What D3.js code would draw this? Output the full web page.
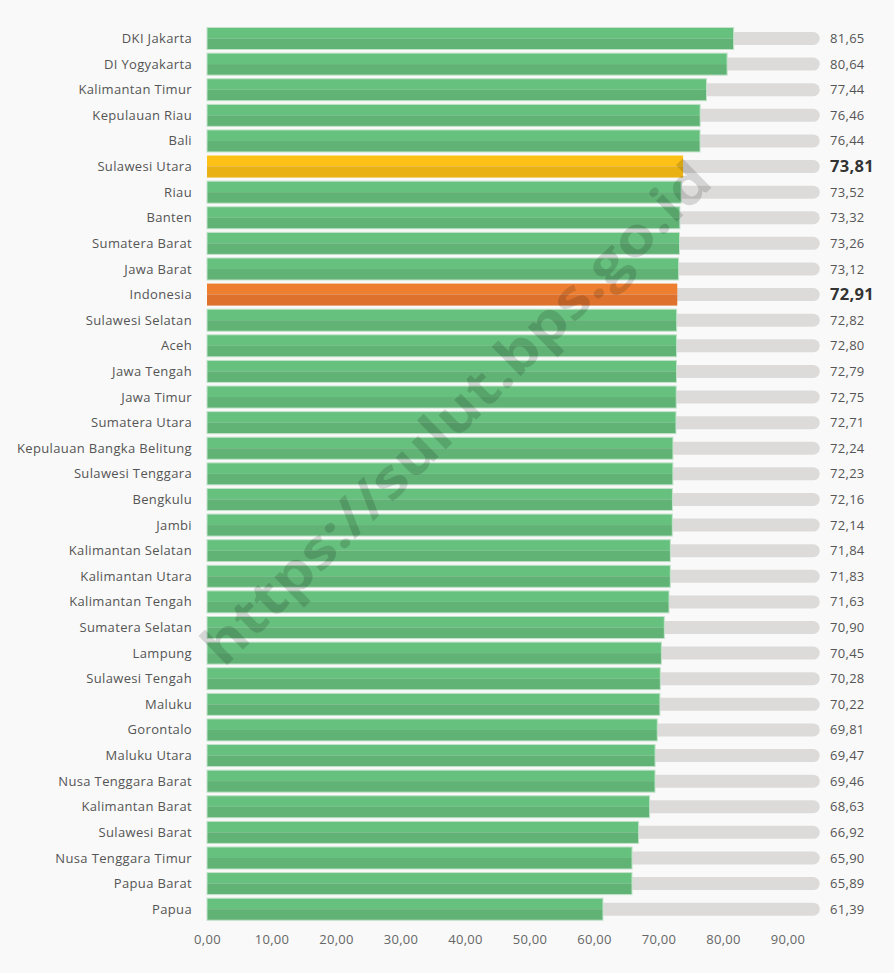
<!DOCTYPE html>
<html>
<head>
<meta charset="utf-8">
<script src="https://cdn.jsdelivr.net/npm/d3@7"></script>
<style>
  html, body { margin: 0; padding: 0; background: #f9f9f9; }
  svg { display: block; font-family: "Open Sans", "Noto Sans", sans-serif; }
</style>
</head>
<body>
<svg id="chart" width="894" height="973"></svg>
<script>
// Indeks Pembangunan Manusia per provinsi
const provinces = [
  "DKI Jakarta", "DI Yogyakarta", "Kalimantan Timur", "Kepulauan Riau", "Bali",
  "Sulawesi Utara", "Riau", "Banten", "Sumatera Barat", "Jawa Barat",
  "Indonesia", "Sulawesi Selatan", "Aceh", "Jawa Tengah", "Jawa Timur",
  "Sumatera Utara", "Kepulauan Bangka Belitung", "Sulawesi Tenggara", "Bengkulu", "Jambi",
  "Kalimantan Selatan", "Kalimantan Utara", "Kalimantan Tengah", "Sumatera Selatan", "Lampung",
  "Sulawesi Tengah", "Maluku", "Gorontalo", "Maluku Utara", "Nusa Tenggara Barat",
  "Kalimantan Barat", "Sulawesi Barat", "Nusa Tenggara Timur", "Papua Barat", "Papua"
];
const ipmValues = [
  81.65, 80.64, 77.44, 76.46, 76.44,
  73.81, 73.52, 73.32, 73.26, 73.12,
  72.91, 72.82, 72.80, 72.79, 72.75,
  72.71, 72.24, 72.23, 72.16, 72.14,
  71.84, 71.83, 71.63, 70.90, 70.45,
  70.28, 70.22, 69.81, 69.47, 69.46,
  68.63, 66.92, 65.90, 65.89, 61.39
];
const highlighted = { "Sulawesi Utara": "yellow", "Indonesia": "orange" };
const tickValues = [0, 10, 20, 30, 40, 50, 60, 70, 80, 90];
const trackMax = 95;

const rows = provinces.map((p, i) => ({ name: p, value: ipmValues[i] }));

const palette = {
  green:  { top: "#67c17e", bottom: "#60b275", stroke: "#c3e3cb" },
  yellow: { top: "#fcc016", bottom: "#e9b114", stroke: "none" },
  orange: { top: "#ee7f31", bottom: "#de722d", stroke: "none" }
};

const svg = d3.select("#chart");
const fmt = v => d3.format(".2f")(v).replace(".", ",");

const x = d3.scaleLinear().domain([0, 90]).range([207, 787.5]);
const y = d3.scaleBand().domain(provinces).range([25.7, 922]).paddingInner(0.14).paddingOuter(0.07);
const bh = y.bandwidth();

// background tracks
svg.append("g").selectAll("rect").data(rows).join("rect")
  .attr("x", x(0))
  .attr("y", d => y(d.name) + bh / 2 - 6.5)
  .attr("width", x(trackMax) - x(0))
  .attr("height", 13)
  .attr("rx", 6.5)
  .attr("fill", "#dcdbda");

// bars, split into a lighter upper half and a darker lower half
const bars = svg.append("g").selectAll("g").data(rows).join("g");
bars.append("rect")
  .attr("x", x(0))
  .attr("y", d => y(d.name))
  .attr("width", d => x(d.value) - x(0))
  .attr("height", bh / 2)
  .attr("fill", d => palette[highlighted[d.name] || "green"].top);
bars.append("rect")
  .attr("x", x(0))
  .attr("y", d => y(d.name) + bh / 2)
  .attr("width", d => x(d.value) - x(0))
  .attr("height", bh / 2)
  .attr("fill", d => palette[highlighted[d.name] || "green"].bottom);
bars.append("rect")
  .attr("x", x(0))
  .attr("y", d => y(d.name))
  .attr("width", d => x(d.value) - x(0))
  .attr("height", bh)
  .attr("fill", "none")
  .attr("stroke", d => palette[highlighted[d.name] || "green"].stroke)
  .attr("stroke-width", 1);

// category labels
svg.append("g").selectAll("text").data(rows).join("text")
  .attr("x", 192)
  .attr("y", d => y(d.name) + bh / 2)
  .attr("dy", "0.35em")
  .attr("text-anchor", "end")
  .attr("font-size", 13)
  .attr("letter-spacing", 0.35)
  .attr("fill", "#555")
  .text(d => d.name);

// value labels
svg.append("g").selectAll("text").data(rows).join("text")
  .attr("x", 830)
  .attr("y", d => y(d.name) + bh / 2)
  .attr("dy", "0.35em")
  .attr("font-size", d => highlighted[d.name] ? 16.5 : 13)
  .attr("font-weight", d => highlighted[d.name] ? 700 : 400)
  .attr("letter-spacing", 0.3)
  .attr("fill", d => highlighted[d.name] ? "#333" : "#555")
  .text(d => fmt(d.value));

// x axis
const axis = svg.append("g")
  .attr("transform", "translate(0,933)")
  .call(d3.axisBottom(x).tickValues(tickValues).tickFormat(fmt).tickSize(0).tickPadding(2));
axis.select(".domain").remove();
axis.selectAll("text")
  .attr("font-family", "\"Open Sans\", \"Noto Sans\", sans-serif")
  .attr("font-size", 13)
  .attr("letter-spacing", 0.3)
  .attr("fill", "#666");

// watermark
svg.append("text")
  .attr("transform", "translate(456,413) rotate(-44.6)")
  .attr("text-anchor", "middle")
  .attr("dy", "0.35em")
  .attr("font-family", "\"Open Sans\", sans-serif")
  .attr("font-weight", 700)
  .attr("font-size", 54)
  .attr("textLength", 690)
  .attr("lengthAdjust", "spacingAndGlyphs")
  .attr("fill", "#000")
  .attr("fill-opacity", 0.14)
  .text("https://sulut.bps.go.id");
</script>
</body>
</html>
